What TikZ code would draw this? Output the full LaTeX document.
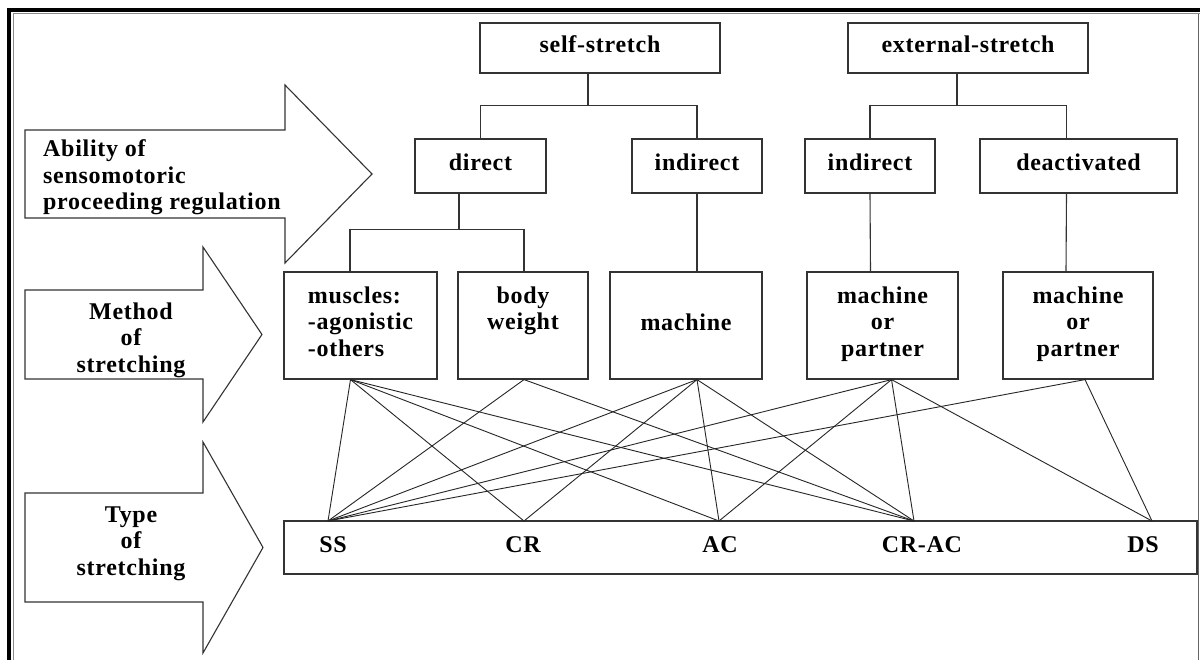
\documentclass[tikz,border=0pt]{standalone}
\usepackage{fontspec}
\setmainfont{Liberation Serif}[LetterSpace=3]
\usepackage{tikz}
\newcommand{\diagfont}{\fontsize{24}{26.5}\selectfont\bfseries}
\tikzset{box/.style = {draw = black!80, line width = 1.2, inner sep = 0, align = center, font = \diagfont}}
\tikzset{oneline/.style = {text height = 15, text depth = 5}}
\tikzset{txt/.style = {inner sep = 0, align = center, font = \diagfont}}
\tikzset{line/.style = {draw = black!85, line width = 0.9}}
\tikzset{tree/.style = {draw = black!80, line width = 1.1}}
\tikzset{band/.style = {draw = black!80, line width = 1.1, fill = white, line join = miter}}

\begin{document}
\begin{tikzpicture}[x=1pt, y=-1pt]
    \useasboundingbox (0,0) rectangle (1200,660);
    \fill [white] (0,0) rectangle (1200,660);
    \draw [line width=4] (9,662) -- (9,10.3) -- (1202,10.3);
    \draw [black!45, line width=1] (13,662) -- (13,14) -- (1202,14);
    \draw [black!60, line width=0.8] (1198.5,14) -- (1198.5,662);

    \draw [band] (25,130) -- (285,130) -- (285,85) -- (372,174) -- (285,263) -- (285,218) -- (25,218) -- cycle;
    \draw [band] (25,290) -- (203,290) -- (203,247) -- (262,334.5) -- (203,422) -- (203,379) -- (25,379) -- cycle;
    \draw [band] (25,493) -- (203,493) -- (203,442) -- (263,547.5) -- (203,653) -- (203,602) -- (25,602) -- cycle;
    \node [txt, align=left, anchor=west] (ability) at (43,179) {Ability of\\sensomotoric\\proceeding regulation\strut};
    \node [txt] (method) at (131,341.5) {Method\\of\\stretching\strut};
    \node [txt] (type) at (131,545) {Type\\of\\stretching\strut};

    \foreach \n/\x/\w/\t in {selfst/600/240/self-stretch, extst/968/240/external-stretch}{
      \node [box, oneline, minimum width=\w, minimum height=50] (\n) at (\x, 48) {\t};
    }
    \foreach \n/\x/\w/\t in {direct/480.5/131/direct, indself/697/130/indirect, indext/870/130/indirect, deact/1078.5/197/deactivated}{
      \node [box, oneline, minimum width=\w, minimum height=54] (\n) at (\x, 166) {\t};
    }
    \node [box, align=left, minimum width=153, minimum height=107] (muscles) at (360.5,325.5) {muscles:\\-agonistic\\-others\strut};
    \node [box, minimum width=130, minimum height=107] (body) at (523,325.5) {body\\weight\\\strut};
    \node [box, oneline, minimum width=152, minimum height=107] (machine) at (686,325.5) {machine};
    \node [box, minimum width=151, minimum height=107] (mp1) at (882.5,325.5) {machine\\or\\partner\strut};
    \node [box, minimum width=150, minimum height=107] (mp2) at (1078,325.5) {machine\\or\\partner\strut};

    \draw [tree] ([xshift=-12]selfst.south) -- ++(0,32) coordinate (jself);
    \draw [tree] (direct.north) |- (jself) -| (indself.north);
    \draw [tree] ([xshift=-11]extst.south) -- ++(0,32) coordinate (jext);
    \draw [tree] (indext.north) |- (jext) -| ([xshift=-12]deact.north);
    \draw [tree] ([xshift=-21.5]direct.south) -- ++(0,36) coordinate (jdir);
    \draw [tree] ([xshift=-10.5]muscles.north) |- (jdir) -| ([xshift=1]body.north);
    \draw [tree] (indself.south) -- ([xshift=11]machine.north);
    \draw [tree] (indext.south) -- ([xshift=-12]mp1.north);
    \draw [tree] ([xshift=-12]deact.south) -- ([xshift=-12]mp2.north);

    \node [box, minimum width=913, minimum height=53] (bar) at (740.5,547.5) {};
    \node [txt, anchor=base] (ss) at (333,552) {SS};
    \node [txt, anchor=base] (cr) at (523,552) {CR};
    \node [txt, anchor=base] (ac) at (720,552) {AC};
    \node [txt, anchor=base] (crac) at (922,552) {CR-AC};
    \node [txt, anchor=base] (ds) at (1143,552) {DS};

    \coordinate (bM) at ([xshift=-10]muscles.south);
    \coordinate (bB) at ([xshift=1]body.south);
    \coordinate (bMa) at ([xshift=11]machine.south);
    \coordinate (bP1) at ([xshift=9]mp1.south);
    \coordinate (bP2) at ([xshift=7]mp2.south);
    \coordinate (tSS) at (328,521);
    \coordinate (tCR) at (524,521);
    \coordinate (tAC) at (719,521);
    \coordinate (tCRAC) at (914,521);
    \coordinate (tDS) at (1152,521);
    \foreach \a/\b in {bM/tSS, bM/tCR, bM/tAC, bM/tCRAC, bB/tSS, bB/tCRAC, bMa/tSS, bMa/tCR, bMa/tAC, bMa/tCRAC, bP1/tSS, bP1/tAC, bP1/tCRAC, bP1/tDS, bP2/tSS, bP2/tDS}{
      \draw [line] (\a) -- (\b);
    }
\end{tikzpicture}
\end{document}
